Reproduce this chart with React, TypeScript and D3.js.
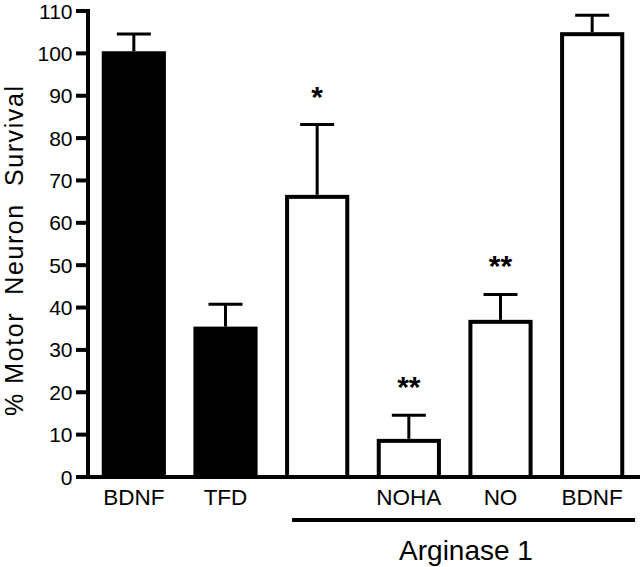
import React from "react";
import * as d3 from "d3";

const categories = ["BDNF", "TFD", "Arginase", "NOHA", "NO", "BDNF2"];
const labels = ["BDNF", "TFD", "", "NOHA", "NO", "BDNF"];
const values = [100.5, 35.5, 66.6, 9.0, 37.1, 105.0];
const errors = [4.1, 5.3, 16.6, 5.6, 6.0, 4.0];
const filled = [true, true, false, false, false, false];
const stars = ["", "", "*", "**", "**", ""];
const yTicks = [0, 10, 20, 30, 40, 50, 60, 70, 80, 90, 100, 110];

export default function App() {
  const W = 640, H = 567;
  const y = d3.scaleLinear().domain([0, 110]).range([477, 11]);
  const x = d3.scaleBand<string>().domain(categories).range([88, 638]).paddingInner(0.3).paddingOuter(0.15);
  const font = "Liberation Sans, Arial, Helvetica, sans-serif";
  const bw = x.bandwidth();
  return (
    <svg width={W} height={H} style={{ position: "absolute", left: 0, top: 0 }} fontFamily={font}>
      <rect width={W} height={H} fill="#fff" />
      {categories.map((c, i) => {
        const x0 = x(c)!;
        const cx = x0 + bw / 2;
        const top = y(values[i]);
        const et = y(values[i] + errors[i]);
        return (
          <g key={c}>
            <line x1={cx} x2={cx} y1={top} y2={et} stroke="#000" strokeWidth={3} />
            <line x1={cx - 17} x2={cx + 17} y1={et} y2={et} stroke="#000" strokeWidth={3} />
            {filled[i] ? (
              <rect x={x0} y={top} width={bw} height={y(0) - top} fill="#000" />
            ) : (
              <rect x={x0 + 2} y={top + 2} width={bw - 4} height={y(0) - top - 2} fill="#fff" stroke="#000" strokeWidth={4} />
            )}
            {stars[i] && (
              <text x={cx} y={et - 18} textAnchor="middle" fontSize={30} fontWeight="bold">{stars[i]}</text>
            )}
            <text x={cx} y={505} textAnchor="middle" fontSize={22.5}>{labels[i]}</text>
          </g>
        );
      })}
      <line x1={88} x2={88} y1={9} y2={479} stroke="#000" strokeWidth={4} />
      <line x1={76} x2={640} y1={477} y2={477} stroke="#000" strokeWidth={4} />
      {yTicks.map((t) => (
        <g key={t}>
          <line x1={76} x2={88} y1={y(t)} y2={y(t)} stroke="#000" strokeWidth={4} />
          <text x={72.5} y={y(t) + 7.5} textAnchor="end" fontSize={21}>{t}</text>
        </g>
      ))}
      <text transform={`translate(23,251) rotate(-90)`} textAnchor="middle" fontSize={25} textLength={330} lengthAdjust="spacing" style={{ whiteSpace: "pre" }}>% Motor  Neuron  Survival</text>
      <line x1={x("Arginase")! + 7} x2={635} y1={520} y2={520} stroke="#000" strokeWidth={4} />
      <text x={466} y={560} textAnchor="middle" fontSize={28}>Arginase 1</text>
    </svg>
  );
}
